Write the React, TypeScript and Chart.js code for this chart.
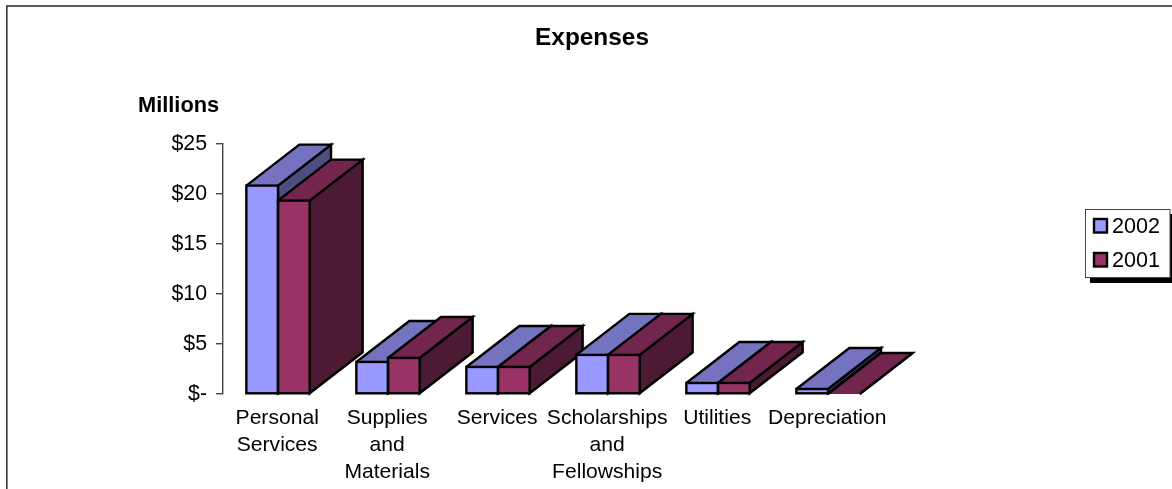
import React, { useEffect, useRef } from "react";
import { Chart, registerables } from "chart.js";

Chart.register(...registerables);

const chartTitle = "Expenses";
const unitLabel = "Millions";
const categories = [
  ["Personal", "Services"],
  ["Supplies", "and", "Materials"],
  ["Services"],
  ["Scholarships", "and", "Fellowships"],
  ["Utilities"],
  ["Depreciation"],
];
const series2002 = [20.8, 3.2, 2.7, 3.9, 1.1, 0.5];
const series2001 = [19.3, 3.6, 2.7, 3.9, 1.1, 0];
const yTickValues = [0, 5, 10, 15, 20, 25];
const yTickLabels = ["$-", "$5", "$10", "$15", "$20", "$25"];

const FONT = "'Liberation Sans', Arial, sans-serif";
const palettes = [
  { front: "#9999FF", top: "#7373BF", side: "#4D4D80" },
  { front: "#993366", top: "#73264D", side: "#4D1A33" },
];
const DX = 53;
const DY = -41;
const STROKE = 2.4;

const facesPlugin = {
  id: "faces3d",
  beforeDatasetsDraw(chart: any) {
    const { ctx } = chart;
    ctx.save();
    ctx.lineWidth = STROKE;
    ctx.strokeStyle = "#000";
    ctx.lineJoin = "miter";
    categories.forEach((_, i) => {
      palettes.forEach((pal, d) => {
        const el = chart.getDatasetMeta(d).data[i];
        const l = el.x - el.width / 2;
        const r = el.x + el.width / 2;
        const t = el.y;
        const b = el.base;
        // side face
        ctx.beginPath();
        ctx.moveTo(r, t);
        ctx.lineTo(r + DX, t + DY);
        ctx.lineTo(r + DX, b + DY);
        ctx.lineTo(r, b);
        ctx.closePath();
        ctx.fillStyle = pal.side;
        ctx.fill();
        ctx.stroke();
        // top face
        ctx.beginPath();
        ctx.moveTo(l, t);
        ctx.lineTo(l + DX, t + DY);
        ctx.lineTo(r + DX, t + DY);
        ctx.lineTo(r, t);
        ctx.fillStyle = pal.top;
        ctx.fill();
        ctx.stroke();
      });
    });
    ctx.restore();
  },
  afterDatasetsDraw(chart: any) {
    const { ctx } = chart;
    ctx.save();
    ctx.lineWidth = STROKE;
    ctx.strokeStyle = "#000";
    categories.forEach((_, i) => {
      palettes.forEach((_p, d) => {
        const el = chart.getDatasetMeta(d).data[i];
        const h = el.base - el.y;
        if (h <= 0) return;
        ctx.strokeRect(el.x - el.width / 2, el.y, el.width, h);
      });
    });
    ctx.restore();
  },
};

const decorPlugin = {
  id: "decor",
  beforeDraw(chart: any) {
    const { ctx } = chart;
    ctx.save();
    ctx.fillStyle = "#fff";
    ctx.fillRect(0, 0, chart.width, chart.height);
    ctx.strokeStyle = "#333";
    ctx.lineWidth = 1.6;
    ctx.strokeRect(6.8, 6, chart.width + 20, chart.height + 20);
    ctx.restore();
  },
  afterDraw(chart: any) {
    const { ctx } = chart;
    ctx.save();
    ctx.fillStyle = "#000";
    ctx.textBaseline = "middle";
    ctx.textAlign = "center";
    ctx.font = `bold 24.4px ${FONT}`;
    ctx.fillText(chartTitle, 592, 38);
    ctx.textAlign = "left";
    ctx.font = `bold 21.8px ${FONT}`;
    ctx.fillText(unitLabel, 138, 106);

    // legend
    ctx.fillStyle = "#000";
    ctx.fillRect(1090, 214, 90, 69);
    ctx.fillStyle = "#fff";
    ctx.fillRect(1085, 209, 85, 68);
    ctx.strokeStyle = "#444";
    ctx.lineWidth = 1;
    ctx.strokeRect(1085.5, 209.5, 84.5, 68);
    chart.data.datasets.forEach((ds: any, i: number) => {
      const cy = 226 + i * 34;
      ctx.fillStyle = ds.backgroundColor;
      ctx.fillRect(1094, cy - 7, 13, 13.5);
      ctx.strokeStyle = "#000";
      ctx.lineWidth = STROKE;
      ctx.strokeRect(1094, cy - 7, 13, 13.5);
      ctx.fillStyle = "#000";
      ctx.font = `21.6px ${FONT}`;
      ctx.fillText(ds.label, 1112, cy + 1);
    });
    ctx.restore();
  },
};

export default function App() {
  const ref = useRef<HTMLCanvasElement>(null);
  useEffect(() => {
    const chart = new Chart(ref.current as HTMLCanvasElement, {
      type: "bar",
      data: {
        labels: categories as any,
        datasets: [
          { label: "2002", data: series2002, backgroundColor: palettes[0].front, borderWidth: 0 },
          { label: "2001", data: series2001, backgroundColor: palettes[1].front, borderWidth: 0 },
        ],
      },
      plugins: [facesPlugin, decorPlugin],
      options: {
        animation: false,
        responsive: false,
        devicePixelRatio: 1,
        layout: { padding: { left: 0, right: 289, top: 143.5, bottom: 0 } },
        datasets: { bar: { categoryPercentage: 0.5755, barPercentage: 1 } },
        plugins: {
          legend: { display: false },
          title: { display: false },
          tooltip: { enabled: false },
        },
        scales: {
          x: {
            grid: { display: false, drawTicks: false },
            border: { display: false },
            afterFit: (s: any) => {
              s.height = 95;
            },
            ticks: {
              autoSkip: false,
              maxRotation: 0,
              minRotation: 0,
              padding: 11,
              labelOffset: -0.8,
              color: "#000",
              font: { family: FONT, size: 21.1, lineHeight: 1.28 },
            },
          },
          y: {
            min: 0,
            max: 25,
            afterBuildTicks: (s: any) => {
              s.ticks = yTickValues.map((value) => ({ value }));
            },
            afterFit: (s: any) => {
              s.width = 223;
            },
            grid: { drawOnChartArea: false, color: "#444", tickLength: 7, lineWidth: 1.4 },
            border: { color: "#444", width: 1.4 },
            ticks: {
              padding: 9,
              labelOffset: 0.5,
              color: "#000",
              font: { family: FONT, size: 21.33 },
              callback: (v: any) => yTickLabels[yTickValues.indexOf(v)],
            },
          },
        },
      },
    } as any);
    return () => chart.destroy();
  }, []);
  return (
    <canvas
      ref={ref}
      width={1172}
      height={489}
      style={{ position: "fixed", left: 0, top: 0, width: 1172, height: 489, display: "block" }}
    />
  );
}
